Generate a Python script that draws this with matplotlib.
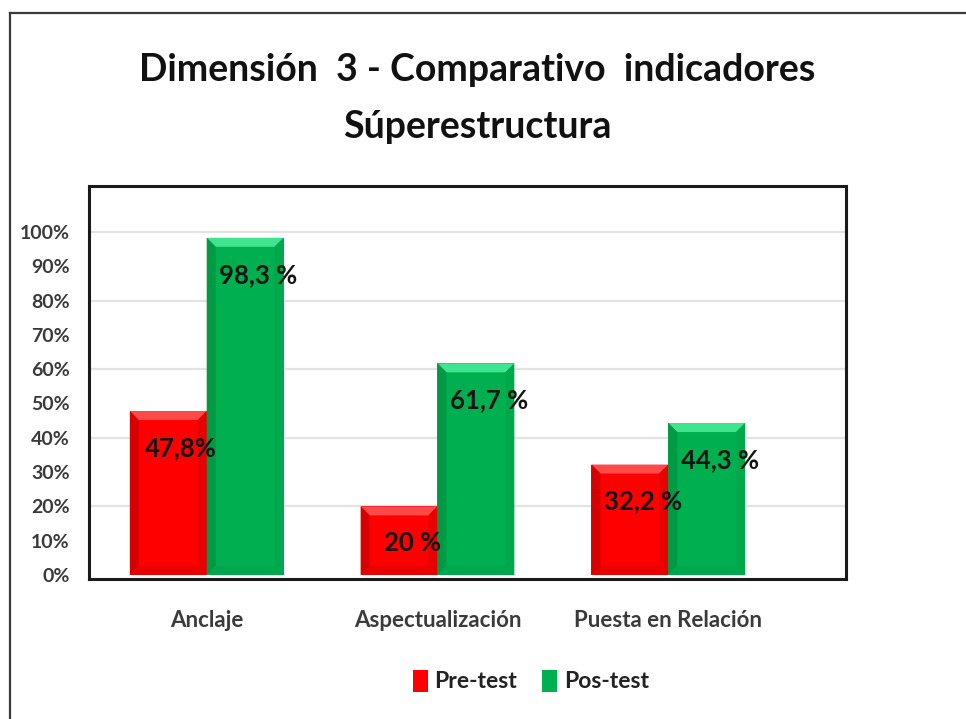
import matplotlib.pyplot as plt
import matplotlib.patches as mpatches
from matplotlib.lines import Line2D
from matplotlib.transforms import IdentityTransform
import numpy as np

# Datos del gráfico
categorias = ["Anclaje", "Aspectualización", "Puesta en Relación"]
pre_test = [0.478, 0.20, 0.322]
pos_test = [0.983, 0.617, 0.443]
etiquetas_pre = ["47,8%", "20 %", "32,2 %"]
etiquetas_pos = ["98,3 %", "61,7 %", "44,3 %"]
series = ["Pre-test", "Pos-test"]

ROJO = "#ff0000"
VERDE = "#00b050"
FUENTE = "Lato"

plt.rcParams['font.family'] = [FUENTE, 'DejaVu Sans']

fig = plt.figure(figsize=(9.66, 7.19), dpi=100)
ax = fig.add_axes([89 / 966, 1 - 579 / 719, (846 - 89) / 966, (579 - 186) / 719])

x = np.arange(len(categorias))
ancho = 0.333
b_pre = ax.bar(x - ancho / 2, pre_test, ancho, color=ROJO, label=series[0], zorder=3)
b_pos = ax.bar(x + ancho / 2, pos_test, ancho, color=VERDE, label=series[1], zorder=3)

ax.set_xlim(-0.51, 2.77)
ax.set_ylim(-0.0117, 1.134)

# ejes y rejilla
ax.set_yticks(np.arange(0, 1.01, 0.1))
ax.set_yticklabels([f"{int(round(v * 100))}%" for v in np.arange(0, 1.01, 0.1)])
ax.tick_params(axis='y', length=0, pad=14, labelsize=14, labelcolor="#3a3a3a")
ax.tick_params(axis='x', length=0, pad=22, labelsize=16, labelcolor="#3a3a3a")
for lbl in ax.get_yticklabels() + ax.get_xticklabels():
    lbl.set_fontweight('bold')
ax.set_xticks(x)
ax.set_xticklabels(categorias)
for v in np.arange(0.2, 1.01, 0.2):
    ax.axhline(v, color="#e3e3e3", lw=1.6, zorder=1)
for s in ax.spines.values():
    s.set_color("#1a1a1a")
    s.set_linewidth(2.2)


def biselar(rect, claro, oscuro, medio, b=9):
    # bisel en pixeles sobre la barra
    (x0, y0), (x1, y1) = ax.transData.transform(
        [(rect.get_x(), rect.get_y()), (rect.get_x() + rect.get_width(), rect.get_y() + rect.get_height())])
    caras = [
        ([(x0, y1), (x1, y1), (x1 - b, y1 - b), (x0 + b, y1 - b)], claro),
        ([(x0, y0), (x0, y1), (x0 + b, y1 - b), (x0 + b, y0 + b)], oscuro),
        ([(x1, y0), (x1, y1), (x1 - b, y1 - b), (x1 - b, y0 + b)], medio),
        ([(x0, y0), (x1, y0), (x1 - b, y0 + b), (x0 + b, y0 + b)], medio),
    ]
    for pts, c in caras:
        ax.add_patch(mpatches.Polygon(pts, closed=True, color=c, lw=0,
                                      transform=IdentityTransform(), zorder=4))


for r in b_pre:
    biselar(r, "#ff4a4a", "#d60000", "#e80000")
for r in b_pos:
    biselar(r, "#3ee58e", "#009a45", "#00a84c")

# etiquetas de datos
for rects, etis in ((b_pre, etiquetas_pre), (b_pos, etiquetas_pos)):
    for r, t in zip(rects, etis):
        ax.annotate(t, (r.get_x() + r.get_width() / 2, r.get_height()),
                    xytext=(13, -37), textcoords='offset pixels',
                    ha='center', va='center', fontsize=18.5, fontweight='bold',
                    color="#141414", zorder=5)

# título
fig.text(0.494, 1 - 70 / 719, "Dimensión  3 - Comparativo  indicadores",
         ha='center', va='center', fontsize=27, fontweight='bold', color="#111111")
fig.text(0.494, 1 - 127 / 719, "Súperestructura",
         ha='center', va='center', fontsize=27, fontweight='bold', color="#111111")

# leyenda
leg = fig.legend(handles=[b_pre, b_pos], labels=series, loc='center',
                 bbox_to_anchor=(531 / 966, 1 - 681 / 719), ncol=2, frameon=False,
                 fontsize=16.5, handlelength=0.65, handleheight=1.1, handletextpad=0.3,
                 columnspacing=1.1)
for t in leg.get_texts():
    t.set_fontweight('bold')
    t.set_color("#222222")

# marco exterior
fig.add_artist(Line2D([10 / 966, 1], [1 - 13 / 719, 1 - 13 / 719], color="#3a3a3a", lw=1.6))
fig.add_artist(Line2D([10 / 966, 10 / 966], [0, 1 - 13 / 719], color="#3a3a3a", lw=1.6))

fig.savefig("out.png", dpi=100)
